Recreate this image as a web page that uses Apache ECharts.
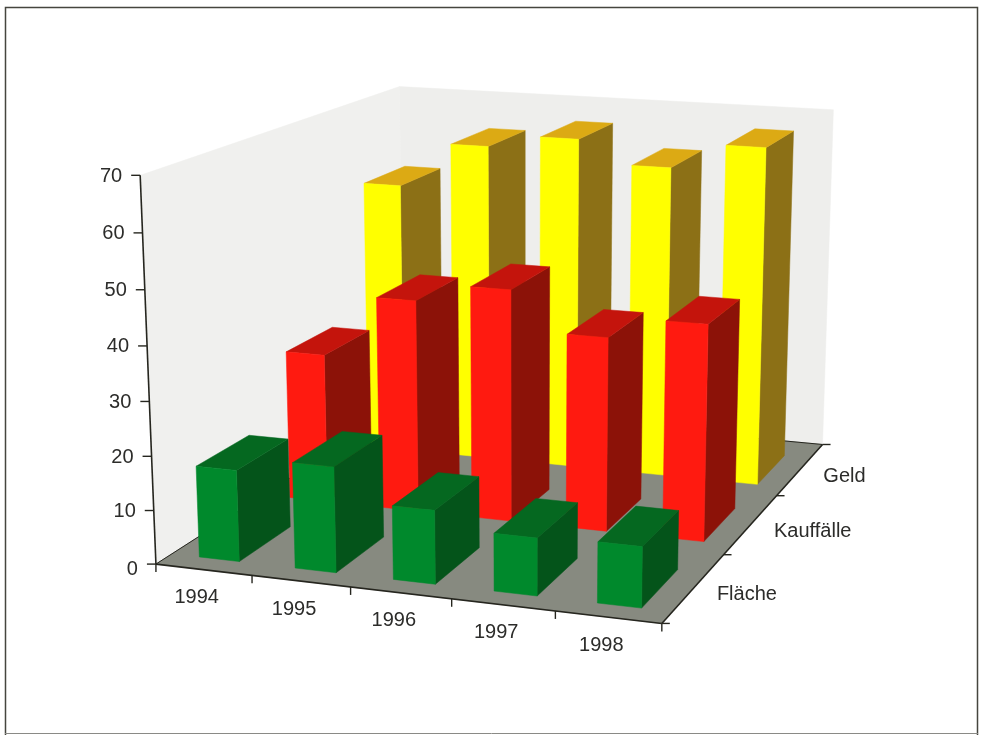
<!DOCTYPE html>
<html>
<head>
<meta charset="utf-8">
<style>html,body{margin:0;padding:0;background:#fff}#chart{width:984px;height:735px}</style>
<script src="https://cdn.jsdelivr.net/npm/echarts@6/dist/echarts.min.js"></script>
</head>
<body>
<div id="chart"></div>
<script>
// Table values
const years = ['1994', '1995', '1996', '1997', '1998'];
const rows = ['Fläche', 'Kauffälle', 'Geld'];
const valueTicks = [0, 10, 20, 30, 40, 50, 60, 70];
const flaeche = [17, 19.5, 13.5, 10.5, 11];
const kauffaelle = [29, 41, 44.5, 37, 41];
const geld = [55, 64, 66.5, 62, 67];

// Box shading per row: front, side, top
const shades = [
  ['#00892c', '#04541a', '#056820'],
  ['#ff1a10', '#8c1208', '#c4140c'],
  ['#ffff00', '#8c7016', '#dcaa14']
];
const FONT = '"Liberation Sans", Arial, sans-serif';
const TEXT = '#2c2c2a';
const INK = '#26261f';

// Viewing transform for the scene: (across, deep, up) each in 0..1
const anchors = [
  [0, 0, 0, 155, 561], [1, 0, 0, 663, 625], [1, 1, 0, 822, 443], [0, 1, 0, 404, 408],
  [0, 0, 1, 140, 177], [0, 1, 1, 400, 85], [1, 1, 1, 833, 110]
];
function solveCamera(pts) {
  const A = [], b = [];
  pts.forEach(([X, Y, Z, px, py]) => {
    const x = px / 1000, y = py / 1000;
    A.push([X, Y, Z, 1, 0, 0, 0, 0, -x * X, -x * Y, -x * Z]); b.push(x);
    A.push([0, 0, 0, 0, X, Y, Z, 1, -y * X, -y * Y, -y * Z]); b.push(y);
  });
  const n = 11;
  const M = [];
  for (let r = 0; r < n; r++) {
    const row = [];
    for (let c = 0; c <= n; c++) {
      let s = 0;
      A.forEach((line, i) => { s += line[r] * (c === n ? b[i] : line[c]); });
      row.push(s);
    }
    M.push(row);
  }
  for (let c = 0; c < n; c++) {
    let piv = c;
    for (let r = c + 1; r < n; r++) if (Math.abs(M[r][c]) > Math.abs(M[piv][c])) piv = r;
    [M[c], M[piv]] = [M[piv], M[c]];
    for (let r = 0; r < n; r++) {
      if (r === c) continue;
      const f = M[r][c] / M[c][c];
      for (let k = c; k <= n; k++) M[r][k] -= f * M[c][k];
    }
  }
  return M.map((row, i) => row[n] / row[i]);
}
const cam = solveCamera(anchors);
function project(u, d, h) {
  const w = cam[8] * u + cam[9] * d + cam[10] * h + 1;
  return [
    1000 * (cam[0] * u + cam[1] * d + cam[2] * h + cam[3]) / w,
    1000 * (cam[4] * u + cam[5] * d + cam[6] * h + cam[7]) / w
  ];
}

// Box footprint as fractions of one table cell
const BAR_W = 0.42;
const BAR_D0 = 0.16;
const BAR_D1 = 0.72;

function face(points, fill) {
  return { type: 'polygon', shape: { points }, style: { fill, stroke: fill, lineWidth: 0.5 } };
}
function segment(a, b, width) {
  return { type: 'line', shape: { x1: a[0], y1: a[1], x2: b[0], y2: b[1] }, style: { stroke: INK, lineWidth: width } };
}
function label(text, x, y, align) {
  return { type: 'text', style: { text, x, y, align, verticalAlign: 'middle', font: '20px ' + FONT, fill: TEXT } };
}
function fractions(params, api, yearIndex, value) {
  const c = params.coordSys, p = api.coord([yearIndex, value]);
  return [(p[0] - c.x) / c.width, 1 - (p[1] - c.y) / c.height];
}

function renderBox(rowIndex) {
  return function (params, api) {
    const i = api.value(0), v = api.value(1);
    const [uc, h] = fractions(params, api, i, v);
    const half = BAR_W / years.length / 2;
    const u0 = uc - half, u1 = uc + half;
    const d0 = (rowIndex + BAR_D0) / rows.length, d1 = (rowIndex + BAR_D1) / rows.length;
    const col = shades[rowIndex];
    return {
      type: 'group',
      children: [
        face([project(u1, d0, 0), project(u1, d1, 0), project(u1, d1, h), project(u1, d0, h)], col[1]),
        face([project(u0, d0, h), project(u1, d0, h), project(u1, d1, h), project(u0, d1, h)], col[2]),
        face([project(u0, d0, 0), project(u1, d0, 0), project(u1, d0, h), project(u0, d0, h)], col[0])
      ]
    };
  };
}

function renderRoom() {
  return {
    type: 'group',
    children: [
      face([project(0, 0, 0), project(0, 0, 1), project(0, 1, 1), project(0, 1, 0)], '#f0f0ee'),
      face([project(0, 1, 0), project(0, 1, 1), project(1, 1, 1), project(1, 1, 0)], '#eeeeec'),
      face([project(0, 0, 0), project(1, 0, 0), project(1, 1, 0), project(0, 1, 0)], '#878a80')
    ]
  };
}

function renderAxes(params, api) {
  const kids = [];
  const A = project(0, 0, 0), B = project(1, 0, 0), C = project(1, 1, 0), D = project(0, 1, 0);
  kids.push(segment(A, project(0, 0, 1), 1.6), segment(A, B, 1.6), segment(B, C, 1.6), segment(A, D, 1), segment(D, C, 1));
  valueTicks.forEach((t) => {
    const [, h] = fractions(params, api, 0, t);
    const p = project(0, 0, h);
    kids.push(segment([p[0] - 9, p[1]], p, 1.4));
    kids.push(label(String(t), p[0] - 18, p[1] + (t === 0 ? 5 : 1), 'right'));
  });
  for (let i = 0; i <= years.length; i++) {
    const p = project(i / years.length, 0, 0);
    kids.push(segment(p, [p[0], p[1] + 8], 1.4));
  }
  years.forEach((y, i) => {
    const p = project((i + 0.5) / years.length, 0, 0);
    kids.push(label(y, p[0] - 7, p[1] + 28, 'center'));
  });
  for (let j = 0; j <= rows.length; j++) {
    const p = project(1, j / rows.length, 0);
    kids.push(segment(p, [p[0] + 8, p[1]], 1.4));
  }
  rows.forEach((r, j) => {
    const p = project(1, (j + 0.5) / rows.length, 0);
    kids.push(label(r, p[0] + 23, p[1] + 7, 'left'));
  });
  return { type: 'group', children: kids };
}

function boxSeries(name, rowIndex, values) {
  return {
    type: 'custom', name, coordinateSystem: 'cartesian2d', silent: true,
    renderItem: renderBox(rowIndex), encode: { x: 0, y: 1 },
    data: values.map((v, i) => [i, v])
  };
}

const chart = echarts.init(document.getElementById('chart'), null, { renderer: 'canvas' });
chart.setOption({
  animation: false,
  backgroundColor: '#ffffff',
  grid: { left: 0, right: 0, top: 0, bottom: 0 },
  xAxis: { type: 'category', data: years, show: false },
  yAxis: { type: 'value', min: 0, max: 70, interval: 10, show: false },
  graphic: [
    { type: 'polyline', silent: true, shape: { points: [[5.5, 735], [5.5, 7.5], [977.5, 7.5], [977.5, 735]] }, style: { fill: 'none', stroke: '#45453f', lineWidth: 1.5 } },
    { type: 'line', silent: true, shape: { x1: 5, y1: 733.5, x2: 978, y2: 733.5 }, style: { stroke: '#8a8a86', lineWidth: 1 } }
  ],
  series: [
    { type: 'custom', silent: true, coordinateSystem: 'cartesian2d', renderItem: renderRoom, data: [[0, 0]] },
    { type: 'custom', silent: true, coordinateSystem: 'cartesian2d', renderItem: renderAxes, data: [[0, 0]] },
    boxSeries('Geld', 2, geld),
    boxSeries('Kauffälle', 1, kauffaelle),
    boxSeries('Fläche', 0, flaeche)
  ]
});
</script>
</body>
</html>
